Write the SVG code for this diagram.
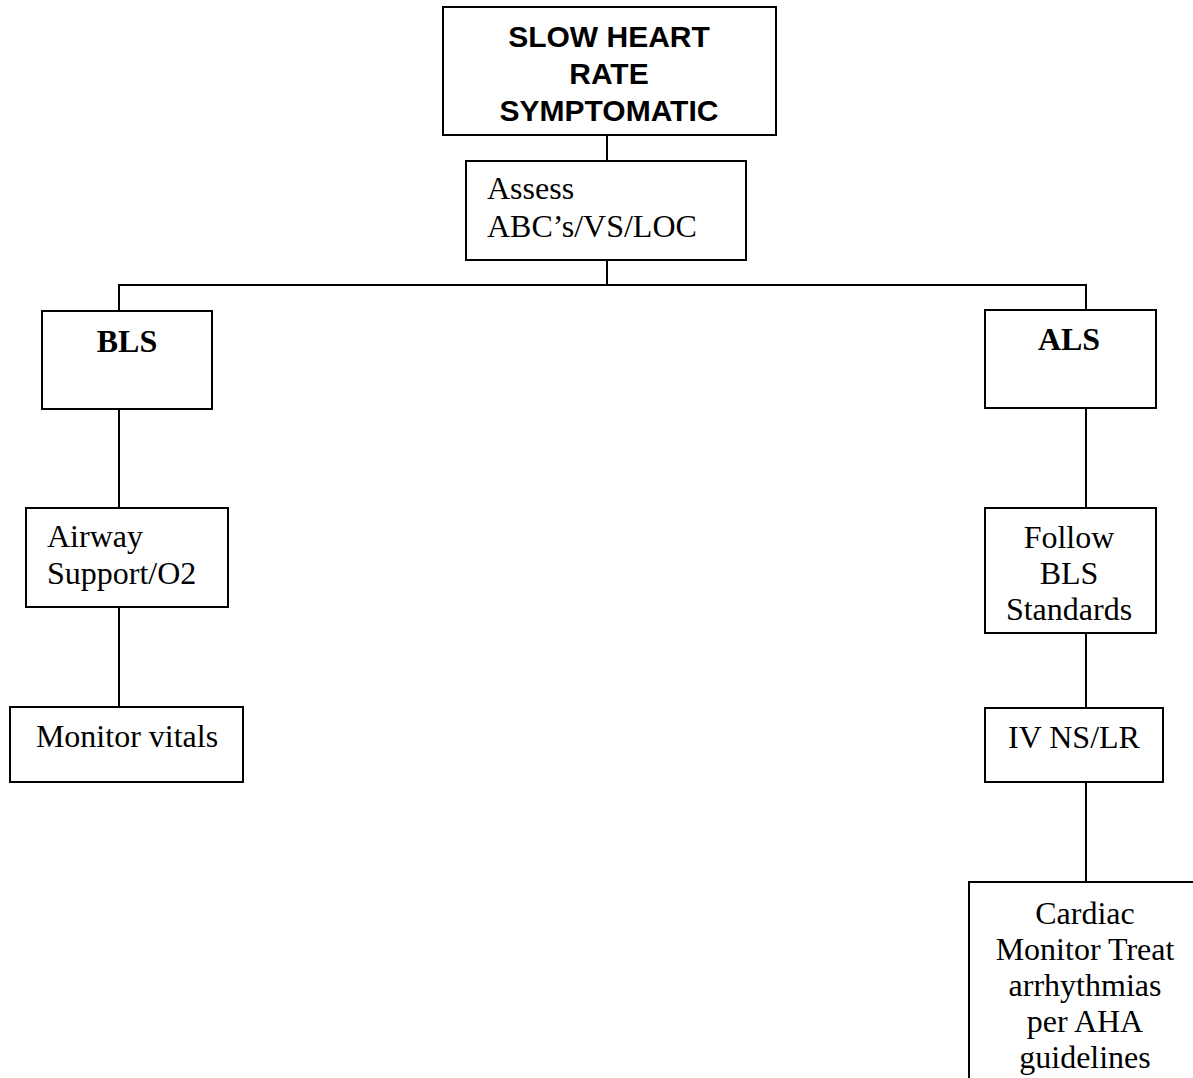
<svg xmlns="http://www.w3.org/2000/svg" width="1193" height="1078" viewBox="0 0 1193 1078">
<style>
.box{fill:#fff;stroke:#000;stroke-width:2}
.ln{stroke:#000;stroke-width:2;fill:none}
.t{font-family:"Liberation Serif","Times New Roman",serif;font-size:32px;fill:#000}
.tb{font-family:"Liberation Serif","Times New Roman",serif;font-size:32px;font-weight:bold;fill:#000}
.th{font-family:"Liberation Sans",Arial,sans-serif;font-size:30px;font-weight:bold;fill:#000}
.c{text-anchor:middle}
</style>
<rect width="1193" height="1078" fill="#fff"/>
<g id="connectors">
<line class="ln" x1="607" y1="135" x2="607" y2="161"/>
<line class="ln" x1="607" y1="260" x2="607" y2="285"/>
<polyline class="ln" points="119,311 119,285 1086,285 1086,310"/>
<line class="ln" x1="119" y1="409" x2="119" y2="508"/>
<line class="ln" x1="119" y1="607" x2="119" y2="707"/>
<line class="ln" x1="1086" y1="408" x2="1086" y2="508"/>
<line class="ln" x1="1086" y1="633" x2="1086" y2="708"/>
<line class="ln" x1="1086" y1="782" x2="1086" y2="882"/>
</g>
<g id="n-top">
<rect class="box" x="443" y="7" width="333" height="128"/>
<text class="th c" x="609" y="47">SLOW HEART</text>
<text class="th c" x="609" y="84">RATE</text>
<text class="th c" x="609" y="121">SYMPTOMATIC</text>
</g>
<g id="n-assess">
<rect class="box" x="466" y="161" width="280" height="99"/>
<text class="t" x="487" y="199">Assess</text>
<text class="t" x="487" y="237">ABC’s/VS/LOC</text>
</g>
<g id="n-bls">
<rect class="box" x="42" y="311" width="170" height="98"/>
<text class="tb c" x="127" y="352">BLS</text>
</g>
<g id="n-airway">
<rect class="box" x="26" y="508" width="202" height="99"/>
<text class="t" x="47" y="547">Airway</text>
<text class="t" x="47" y="584">Support/O2</text>
</g>
<g id="n-monitor">
<rect class="box" x="10" y="707" width="233" height="75"/>
<text class="t c" x="127" y="747">Monitor vitals</text>
</g>
<g id="n-als">
<rect class="box" x="985" y="310" width="171" height="98"/>
<text class="tb c" x="1069" y="350">ALS</text>
</g>
<g id="n-follow">
<rect class="box" x="985" y="508" width="171" height="125"/>
<text class="t c" x="1069" y="548">Follow</text>
<text class="t c" x="1069" y="584">BLS</text>
<text class="t c" x="1069" y="620">Standards</text>
</g>
<g id="n-iv">
<rect class="box" x="985" y="708" width="178" height="74"/>
<text class="t c" x="1074" y="748">IV NS/LR</text>
</g>
<g id="n-cardiac">
<rect class="box" x="969" y="882" width="240" height="220"/>
<text class="t c" x="1085" y="924">Cardiac</text>
<text class="t c" x="1085" y="960">Monitor Treat</text>
<text class="t c" x="1085" y="996">arrhythmias</text>
<text class="t c" x="1085" y="1032">per AHA</text>
<text class="t c" x="1085" y="1068">guidelines</text>
</g>
</svg>
